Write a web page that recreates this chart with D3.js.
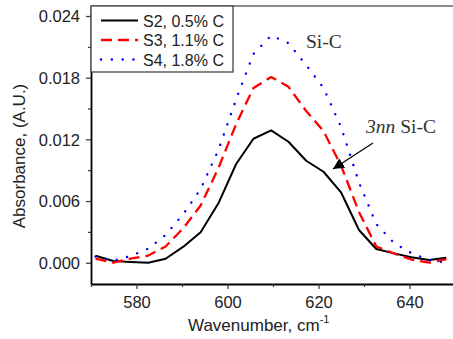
<!DOCTYPE html>
<html>
<head>
<meta charset="utf-8">
<script src="https://cdn.jsdelivr.net/npm/d3@7"></script>
<style>
  body { margin: 0; background: #fff; }
  svg { display: block; }
  .tick-label { font-family: "Liberation Sans", Arial, sans-serif; font-size: 16.5px; fill: #222; }
  .axis-title { font-family: "Liberation Sans", Arial, sans-serif; font-size: 17px; fill: #222; }
  .legend-text { font-family: "Liberation Sans", Arial, sans-serif; font-size: 16px; fill: #222; }
  .note { font-family: "Liberation Serif", "Times New Roman", serif; font-size: 19.5px; fill: #333; }
</style>
</head>
<body>
<div id="chart"></div>
<script>
const wavenumbers = [571.0, 574.9, 578.7, 582.6, 586.4, 590.3, 594.1, 598.0, 601.9, 605.7, 609.6,
  613.4, 617.3, 621.1, 625.0, 628.9, 632.7, 636.6, 640.4, 644.3, 648.1];
const s2 = [0.00068, 0.00017, 0.00007, 0.0, 0.00039, 0.00156, 0.00296, 0.00578, 0.0096, 0.01206, 0.01288,
  0.01177, 0.00992, 0.00885, 0.00681, 0.00318, 0.00133, 0.00091, 0.00053, 0.00026, 0.00049];
const s3 = [0.0004, 0.0, 0.0004, 0.0007, 0.00158, 0.00337, 0.00556, 0.0092, 0.01349, 0.0170, 0.01806,
  0.01711, 0.01475, 0.0128, 0.0094, 0.00493, 0.00158, 0.0009, 0.00031, 0.0, 0.00036];
const s4 = [0.0006, 0.0002, 0.00065, 0.00138, 0.0027, 0.00474, 0.00717, 0.01096, 0.0159, 0.0203, 0.0221,
  0.02136, 0.01922, 0.017, 0.01315, 0.0078, 0.00376, 0.00192, 0.00094, 0.00026, 0.0];

const seriesNames = ['S2, 0.5% C', 'S3, 1.1% C', 'S4, 1.8% C'];
const xMajorTicks = [580, 600, 620, 640];
const xMinorTicks = [570, 590, 610, 630, 650];
const yMajorTicks = [0.000, 0.006, 0.012, 0.018, 0.024];
const yMinorTicks = [0.003, 0.009, 0.015, 0.021];

const width = 453, height = 339;
const margin = { top: 6, left: 91, bottom: 55 };

const svg = d3.select('#chart').append('svg')
  .attr('width', width)
  .attr('height', height);

const x = d3.scaleLinear().domain([570, 650]).range([margin.left, 455]);
const y = d3.scaleLinear().domain([-0.00207, 0.02497]).range([height - margin.bottom, margin.top]);

const styles = [
  { color: '#000', width: 2, dash: null, cap: 'butt' },
  { color: '#f00', width: 2.3, dash: '11,6', cap: 'butt' },
  { color: '#00f', width: 2.4, dash: '0.1,10.7', cap: 'round' }
];

// axes
const yAxis = svg.append('g').attr('transform', `translate(${margin.left},0)`);
yAxis.call(d3.axisLeft(y).tickValues(yMajorTicks).tickSize(5).tickSizeOuter(0).tickFormat(d3.format('.3f')));
const yMinor = svg.append('g').attr('transform', `translate(${margin.left},0)`);
yMinor.call(d3.axisLeft(y).tickValues(yMinorTicks).tickSize(3).tickSizeOuter(0).tickFormat(() => ''));

const xAxis = svg.append('g').attr('transform', `translate(0,${y.range()[0]})`);
xAxis.call(d3.axisBottom(x).tickValues(xMajorTicks).tickSize(5).tickSizeOuter(0).tickFormat(d3.format('d')));
const xMinor = svg.append('g').attr('transform', `translate(0,${y.range()[0]})`);
xMinor.call(d3.axisBottom(x).tickValues(xMinorTicks).tickSize(3).tickSizeOuter(0).tickFormat(() => ''));

svg.selectAll('.domain').attr('stroke', '#000').attr('stroke-width', 1.8);
svg.selectAll('.tick line').attr('stroke', '#333').attr('stroke-width', 1.2);
yAxis.selectAll('text').attr('class', 'tick-label').attr('x', -11).attr('dy', '0.36em');
xAxis.selectAll('text').attr('class', 'tick-label').attr('y', 12).attr('dy', '0.71em');
[xMinor, yMinor].forEach(g => g.select('.domain').remove());

// top frame line
svg.append('line')
  .attr('x1', margin.left).attr('x2', width)
  .attr('y1', y.range()[1]).attr('y2', y.range()[1])
  .attr('stroke', '#666').attr('stroke-width', 1.6);

// titles
svg.append('text')
  .attr('class', 'axis-title')
  .attr('transform', `translate(25,156) rotate(-90)`)
  .attr('text-anchor', 'middle')
  .attr('font-size', '18.5px')
  .text('Absorbance, (A.U.)');

const xt = svg.append('text')
  .attr('class', 'axis-title')
  .attr('x', 188).attr('y', 331);
xt.append('tspan').text('Wavenumber, cm');
xt.append('tspan').attr('dy', -8).attr('font-size', '11px').text('-1');

// lines
const line = d3.line()
  .x((d, i) => x(wavenumbers[i]))
  .y(d => y(d));

[s2, s3, s4].forEach((data, i) => {
  const st = styles[i];
  svg.append('path')
    .datum(data)
    .attr('d', line)
    .attr('fill', 'none')
    .attr('stroke', st.color)
    .attr('stroke-width', st.width)
    .attr('stroke-dasharray', st.dash)
    .attr('stroke-linecap', st.cap)
    .attr('stroke-linejoin', 'round');
});

// legend
const legend = svg.append('g');
legend.append('rect')
  .attr('x', margin.left).attr('y', margin.top)
  .attr('width', 142).attr('height', 66)
  .attr('fill', '#fff')
  .attr('stroke', '#444').attr('stroke-width', 1.3);

seriesNames.forEach((name, i) => {
  const st = styles[i];
  const ly = 20.5 + i * 19.5;
  legend.append('line')
    .attr('x1', 101).attr('x2', 138)
    .attr('y1', ly).attr('y2', ly)
    .attr('stroke', st.color)
    .attr('stroke-width', st.width)
    .attr('stroke-dasharray', st.dash)
    .attr('stroke-linecap', st.cap);
  legend.append('text')
    .attr('class', 'legend-text')
    .attr('x', 143).attr('y', ly + 6)
    .text(name);
});

// annotations
svg.append('text').attr('class', 'note').attr('x', 306).attr('y', 48).text('Si-C');

const note = svg.append('text').attr('class', 'note').attr('x', 366).attr('y', 133);
note.append('tspan').attr('font-style', 'italic').text('3nn');
note.append('tspan').text(' Si-C');

svg.append('defs').append('marker')
  .attr('id', 'arrow')
  .attr('viewBox', '0 0 10 10')
  .attr('refX', 10).attr('refY', 5)
  .attr('markerWidth', 11).attr('markerHeight', 11)
  .attr('markerUnits', 'userSpaceOnUse')
  .attr('orient', 'auto')
  .append('path')
  .attr('d', 'M0,0L10,5L0,10z')
  .attr('fill', '#000');

svg.append('line')
  .attr('x1', 373).attr('y1', 143)
  .attr('x2', 333).attr('y2', 169)
  .attr('stroke', '#000').attr('stroke-width', 1.2)
  .attr('marker-end', 'url(#arrow)');
</script>
</body>
</html>
